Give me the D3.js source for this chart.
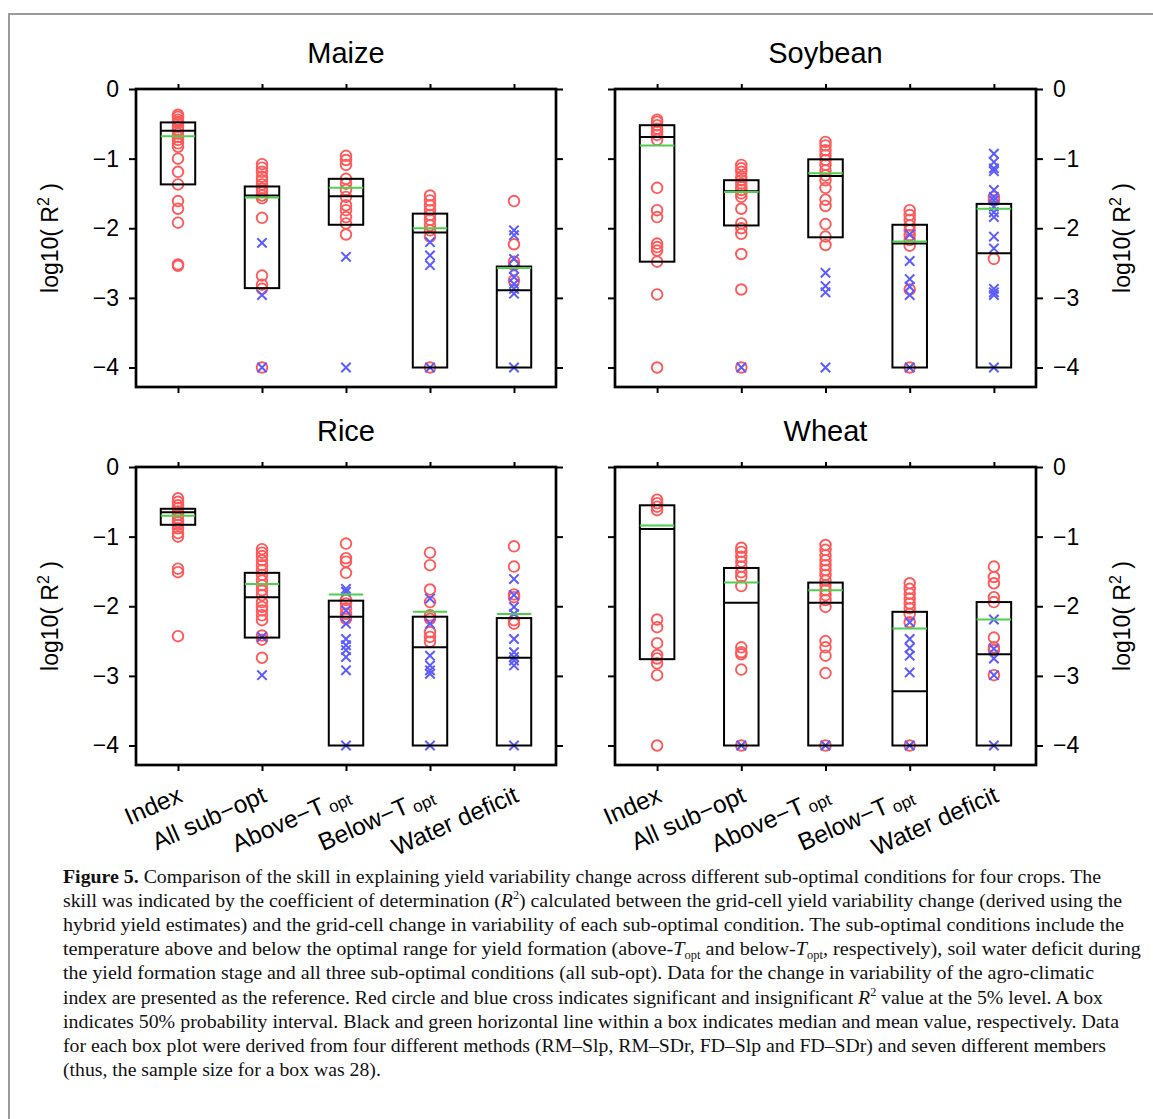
<!DOCTYPE html>
<html>
<head>
<meta charset="utf-8">
<script src="https://cdn.jsdelivr.net/npm/d3@7"></script>
<style>
  body { margin: 0; background: #fff; }
  .sans { font-family: "Liberation Sans", Arial, Helvetica, sans-serif; }
  .caption { font-family: "Liberation Serif", "Times New Roman", serif; }
</style>
</head>
<body>
<div id="chart"></div>
<script>
// categories + ticks
var categories = ["Index", "All sub\u2212opt", "Above\u2212T", "Below\u2212T", "Water deficit"];
var catSub = ["", "", "opt", "opt", ""];
var yTicks = [0, -1, -2, -3, -4];

// Maize
var maizeQ3 = [-0.48, -1.40, -1.29, -1.79, -2.55];
var maizeQ1 = [-1.37, -2.86, -1.95, -4.0, -4.0];
var maizeMedian = [-0.60, -1.53, -1.54, -2.06, -2.89];
var maizeMean = [-0.68, -1.56, -1.42, -2.00, -2.57];
var maizeSig = [
  [-0.37, -0.40, -0.44, -0.47, -0.49, -0.54, -0.59, -0.64, -0.69, -0.73, -0.78, -0.83, -1.0, -1.19, -1.37, -1.61, -1.72, -1.92, -2.52, -2.54],
  [-1.08, -1.13, -1.19, -1.26, -1.31, -1.37, -1.43, -1.48, -1.53, -1.57, -1.85, -2.68, -2.81, -2.87, -4.0],
  [-0.96, -1.02, -1.09, -1.29, -1.36, -1.45, -1.55, -1.67, -1.74, -1.84, -1.93, -2.09],
  [-1.53, -1.60, -1.67, -1.74, -1.81, -1.88, -1.96, -2.03, -2.12, -4.0],
  [-1.61, -2.23, -2.48, -2.53, -2.75]
];
var maizeInsig = [
  [],
  [-2.21, -2.96, -4.0],
  [-2.41, -4.0],
  [-2.20, -2.39, -2.53, -4.0],
  [-2.03, -2.10, -2.44, -2.58, -2.70, -2.80, -2.87, -2.94, -4.0]
];

// Soybean
var soyQ3 = [-0.52, -1.31, -1.01, -1.95, -1.65];
var soyQ1 = [-2.48, -1.96, -2.13, -4.0, -4.0];
var soyMedian = [-0.69, -1.47, -1.25, -2.22, -2.36];
var soyMean = [-0.81, -1.48, -1.21, -2.19, -1.72];
var soySig = [
  [-0.44, -0.47, -0.52, -0.57, -0.61, -0.66, -0.73, -1.42, -1.74, -1.84, -2.22, -2.27, -2.32, -2.48, -2.95, -4.0],
  [-1.09, -1.14, -1.19, -1.26, -1.31, -1.36, -1.41, -1.45, -1.50, -1.55, -1.72, -1.93, -2.0, -2.08, -2.37, -2.88, -4.0],
  [-0.76, -0.81, -0.88, -0.95, -1.02, -1.09, -1.17, -1.24, -1.31, -1.42, -1.59, -1.68, -1.94, -2.12, -2.24],
  [-1.74, -1.81, -1.88, -1.96, -2.03, -2.10, -2.17, -2.25, -2.88, -4.0],
  [-1.55, -1.60, -2.44]
];
var soyInsig = [
  [],
  [-4.0],
  [-2.64, -2.83, -2.92, -4.0],
  [-2.09, -2.47, -2.73, -2.84, -2.96, -4.0],
  [-0.93, -1.05, -1.14, -1.18, -1.45, -1.55, -1.60, -1.69, -1.77, -1.84, -2.12, -2.29, -2.87, -2.92, -2.96, -4.0]
];

// Rice
var riceQ3 = [-0.60, -1.52, -1.92, -2.15, -2.17];
var riceQ1 = [-0.83, -2.45, -4.0, -4.0, -4.0];
var riceMedian = [-0.65, -1.87, -2.15, -2.59, -2.74];
var riceMean = [-0.70, -1.68, -1.83, -2.08, -2.11];
var riceSig = [
  [-0.45, -0.50, -0.55, -0.59, -0.64, -0.69, -0.74, -0.79, -0.83, -0.88, -0.95, -1.0, -1.46, -1.51, -2.43],
  [-1.18, -1.23, -1.28, -1.34, -1.41, -1.48, -1.55, -1.63, -1.70, -1.77, -1.84, -1.94, -2.01, -2.06, -2.13, -2.20, -2.42, -2.48, -2.74],
  [-1.10, -1.31, -1.36, -1.52, -1.91, -1.96, -2.03, -2.11, -2.18],
  [-1.23, -1.41, -1.76, -1.94, -2.13, -2.18, -2.37, -2.44, -2.51],
  [-1.14, -1.43, -1.83, -1.87, -2.20, -2.25]
];
var riceInsig = [
  [],
  [-2.44, -2.99],
  [-1.75, -1.79, -2.06, -2.25, -2.47, -2.56, -2.63, -2.73, -2.92, -4.0],
  [-1.89, -2.25, -2.71, -2.85, -2.92, -2.97, -4.0],
  [-1.61, -1.84, -2.01, -2.11, -2.47, -2.66, -2.73, -2.78, -2.85, -4.0]
];

// Wheat
var wheatQ3 = [-0.55, -1.45, -1.66, -2.08, -1.94];
var wheatQ1 = [-2.76, -4.0, -4.0, -4.0, -4.0];
var wheatMedian = [-0.89, -1.95, -1.95, -3.22, -2.69];
var wheatMean = [-0.84, -1.66, -1.77, -2.32, -2.19];
var wheatSig = [
  [-0.47, -0.52, -0.57, -0.62, -2.19, -2.30, -2.53, -2.70, -2.75, -2.82, -2.99, -4.0],
  [-1.16, -1.22, -1.29, -1.36, -1.43, -1.51, -1.58, -1.71, -2.59, -2.66, -2.69, -2.91, -4.0],
  [-1.12, -1.19, -1.27, -1.34, -1.41, -1.48, -1.55, -1.63, -1.70, -1.77, -1.84, -1.91, -2.01, -2.50, -2.59, -2.71, -2.96, -4.0],
  [-1.67, -1.75, -1.82, -1.89, -1.96, -2.03, -2.11, -2.23, -4.0],
  [-1.43, -1.58, -1.67, -1.87, -1.94, -2.45, -2.59, -2.63, -2.99]
];
var wheatInsig = [
  [],
  [-4.0],
  [-4.0],
  [-2.23, -2.47, -2.60, -2.71, -2.95, -4.0],
  [-2.19, -2.61, -2.75, -2.99, -4.0]
];

var W = 1153, H = 1119;
var boxHalf = 0.205;

var svg = d3.select("#chart")
  .append("svg")
  .attr("width", W)
  .attr("height", H);

// page frame
svg.append("path")
  .attr("d", "M9," + H + "V14H" + W)
  .attr("fill", "none")
  .attr("stroke", "#9a9a9a")
  .attr("stroke-width", 2);

var panels = [
  {name: "Maize", q3: maizeQ3, q1: maizeQ1, med: maizeMedian, mean: maizeMean, sig: maizeSig, insig: maizeInsig,
   left: 136, right: 556, top: 89, bottom: 387, side: "left", xlab: false},
  {name: "Soybean", q3: soyQ3, q1: soyQ1, med: soyMedian, mean: soyMean, sig: soySig, insig: soyInsig,
   left: 615, right: 1036, top: 89, bottom: 387, side: "right", xlab: false},
  {name: "Rice", q3: riceQ3, q1: riceQ1, med: riceMedian, mean: riceMean, sig: riceSig, insig: riceInsig,
   left: 136, right: 556, top: 467, bottom: 765, side: "left", xlab: true},
  {name: "Wheat", q3: wheatQ3, q1: wheatQ1, med: wheatMedian, mean: wheatMean, sig: wheatSig, insig: wheatInsig,
   left: 615, right: 1036, top: 467, bottom: 765, side: "right", xlab: true}
];

panels.forEach(function(p) {
  var x = d3.scaleLinear().domain([0.5, 5.5]).range([p.left, p.right]);
  var y = d3.scaleLinear().domain([-4.28, 0]).range([p.bottom, p.top]);
  var g = svg.append("g").attr("class", "sans");

  // title
  g.append("text")
    .attr("x", (p.left + p.right) / 2)
    .attr("y", p.top - 26)
    .attr("text-anchor", "middle")
    .attr("font-size", 29)
    .text(p.name);

  // axes (no domain line, frame drawn below)
  var tickFmt = d3.format("d");
  var axL = d3.axisLeft(y).tickValues(yTicks).tickSize(7).tickPadding(10).tickFormat(p.side == "left" ? tickFmt : "");
  var axR = d3.axisRight(y).tickValues(yTicks).tickSize(7).tickPadding(10).tickFormat(p.side == "right" ? tickFmt : "");
  var axT = d3.axisTop(x).tickValues([1, 2, 3, 4, 5]).tickSize(5).tickFormat("");
  var axB = d3.axisBottom(x).tickValues([1, 2, 3, 4, 5]).tickSize(6).tickFormat("");

  [[axL, "translate(" + p.left + ",0)"], [axR, "translate(" + p.right + ",0)"],
   [axT, "translate(0," + p.top + ")"], [axB, "translate(0," + p.bottom + ")"]].forEach(function(a) {
    var ag = g.append("g").attr("transform", a[1]).call(a[0]);
    ag.select(".domain").remove();
    ag.selectAll("line").attr("stroke", "#000").attr("stroke-width", 2);
    ag.selectAll("text")
      .attr("font-size", 23)
      .attr("font-family", "Liberation Sans, Arial, sans-serif")
      .attr("fill", "#000");
  });

  // y label
  var lx = p.side == "left" ? 58 : 1130;
  var ylab = g.append("text")
    .attr("transform", "translate(" + lx + "," + (p.top + p.bottom) / 2 + ") rotate(-90)")
    .attr("text-anchor", "middle")
    .attr("font-size", 23);
  ylab.append("tspan").text("log10( R");
  ylab.append("tspan").attr("font-size", 16).attr("dy", -9).text("2");
  ylab.append("tspan").attr("dy", 9).text(" )");

  // points
  p.sig.forEach(function(vals, i) {
    g.selectAll(null)
      .data(vals)
      .enter().append("circle")
      .attr("cx", x(i + 1))
      .attr("cy", function(d) { return y(d); })
      .attr("r", 5.3)
      .attr("fill", "none")
      .attr("stroke", "#ff5a5a")
      .attr("stroke-width", 1.9);
  });
  var cs = 4.7;
  p.insig.forEach(function(vals, i) {
    g.selectAll(null)
      .data(vals)
      .enter().append("path")
      .attr("d", function(d) {
        var cx = x(i + 1), cy = y(d);
        return "M" + (cx - cs) + "," + (cy - cs) + "L" + (cx + cs) + "," + (cy + cs) +
               "M" + (cx - cs) + "," + (cy + cs) + "L" + (cx + cs) + "," + (cy - cs);
      })
      .attr("stroke", "#5b5bff")
      .attr("stroke-width", 2);
  });

  // boxes
  g.selectAll(null)
    .data(categories)
    .enter().append("rect")
    .attr("x", function(d, i) { return x(i + 1 - boxHalf); })
    .attr("y", function(d, i) { return y(p.q3[i]); })
    .attr("width", function(d, i) { return x(i + 1 + boxHalf) - x(i + 1 - boxHalf); })
    .attr("height", function(d, i) { return y(p.q1[i]) - y(p.q3[i]); })
    .attr("fill", "none")
    .attr("stroke", "#000")
    .attr("stroke-width", 2);

  g.selectAll(null)
    .data(p.med)
    .enter().append("line")
    .attr("x1", function(d, i) { return x(i + 1 - boxHalf); })
    .attr("x2", function(d, i) { return x(i + 1 + boxHalf); })
    .attr("y1", function(d) { return y(d); })
    .attr("y2", function(d) { return y(d); })
    .attr("stroke", "#000")
    .attr("stroke-width", 2);

  g.selectAll(null)
    .data(p.mean)
    .enter().append("line")
    .attr("x1", function(d, i) { return x(i + 1 - boxHalf); })
    .attr("x2", function(d, i) { return x(i + 1 + boxHalf); })
    .attr("y1", function(d) { return y(d); })
    .attr("y2", function(d) { return y(d); })
    .attr("stroke", "#4fcf4f")
    .attr("stroke-width", 2);

  // frame
  g.append("rect")
    .attr("x", p.left)
    .attr("y", p.top)
    .attr("width", p.right - p.left)
    .attr("height", p.bottom - p.top)
    .attr("fill", "none")
    .attr("stroke", "#000")
    .attr("stroke-width", 2.7);

  // rotated category labels
  if (p.xlab) {
    categories.forEach(function(c, i) {
      var t = g.append("text")
        .attr("transform", "translate(" + (x(i + 1) + 6) + "," + (p.bottom + 36) + ") rotate(-24)")
        .attr("text-anchor", "end")
        .attr("font-size", 24.5)
        .text(c);
      if (catSub[i]) {
        t.append("tspan").attr("font-size", 17).attr("dx", 4).attr("dy", 3).text(catSub[i]);
      }
    });
  }
});

// caption
var capLines = [
  [["Figure 5.", "b"], [" Comparison of the skill in explaining yield variability change across different sub-optimal conditions for four crops. The"]],
  [["skill was indicated by the coefficient of determination ("], ["R", "i"], ["2", "sup"], [") calculated between the grid-cell yield variability change (derived using the"]],
  [["hybrid yield estimates) and the grid-cell change in variability of each sub-optimal condition. The sub-optimal conditions include the"]],
  [["temperature above and below the optimal range for yield formation (above-"], ["T", "i"], ["opt", "sub"], [" and below-"], ["T", "i"], ["opt", "sub"], [", respectively), soil water deficit during"]],
  [["the yield formation stage and all three sub-optimal conditions (all sub-opt). Data for the change in variability of the agro-climatic"]],
  [["index are presented as the reference. Red circle and blue cross indicates significant and insignificant "], ["R", "i"], ["2", "sup"], [" value at the 5% level. A box"]],
  [["indicates 50% probability interval. Black and green horizontal line within a box indicates median and mean value, respectively. Data"]],
  [["for each box plot were derived from four different methods (RM\u2013Slp, RM\u2013SDr, FD\u2013Slp and FD\u2013SDr) and seven different members"]],
  [["(thus, the sample size for a box was 28)."]]
];
var capEnds = [1101, 1122, 1124, 1141, 1094, 1103, 1119, 1106, null];
var capX = 63, capY = 883, capStep = 24.1;
var ratio = 0.9;

capLines.forEach(function(segs, li) {
  var t = svg.append("text")
    .attr("class", "caption")
    .attr("x", capX)
    .attr("y", capY + li * capStep)
    .attr("font-size", 19.5)
    .attr("fill", "#111");
  segs.forEach(function(s) {
    var ts = t.append("tspan").text(s[0]);
    if (s[1] == "b") ts.attr("font-weight", "bold");
    if (s[1] == "i") ts.attr("font-style", "italic");
    if (s[1] == "sup") { ts.attr("font-size", 12).attr("dy", -8); }
    if (s[1] == "sub") { ts.attr("font-size", 12).attr("dy", 4); }
    if (s[1] == "sup" || s[1] == "sub") {
      ts.attr("data-shift", s[1] == "sup" ? 8 : -4);
    }
  });
  // put baseline back after shifted pieces
  t.selectAll("tspan").each(function(d, k, nodes) {
    var sh = this.getAttribute("data-shift");
    if (sh && nodes[k + 1]) d3.select(nodes[k + 1]).attr("dy", +sh);
  });
  var natural = t.node().getComputedTextLength();
  if (capEnds[li]) {
    ratio = (capEnds[li] - capX) / natural;
    t.attr("textLength", capEnds[li] - capX).attr("lengthAdjust", "spacingAndGlyphs");
  } else {
    t.attr("textLength", natural * ratio).attr("lengthAdjust", "spacingAndGlyphs");
  }
});
</script>
</body>
</html>
